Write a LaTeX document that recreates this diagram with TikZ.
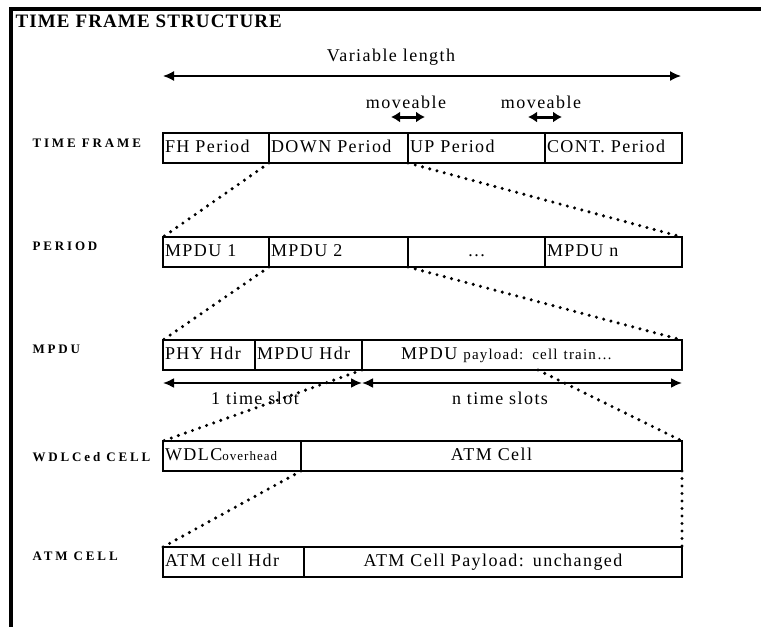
\documentclass[tikz,border=0pt]{standalone}
\usepackage{fontspec}
\setmainfont[LetterSpace=8]{Liberation Serif}
\newfontfamily\rowfont[LetterSpace=22]{Liberation Serif}
\newfontfamily\titlefont[LetterSpace=6]{Liberation Serif}
\usetikzlibrary{arrows.meta, calc, positioning}

\begin{document}
\begin{tikzpicture}[
    x=1pt, y=-1pt,
    font=\fontsize{18}{20}\selectfont,
    seg/.style={draw, line width=1.8pt, anchor=north west, minimum height=30pt, inner xsep=2pt, inner ysep=0pt, outer sep=0pt, text width=#1, align=left, text height=13pt, text depth=4pt},
    cseg/.style={seg=#1, align=center},
    rowlbl/.style={anchor=west, font=\rowfont\bfseries\fontsize{13}{15}\selectfont},
    span/.style={{Latex[length=11pt,width=10pt]}-{Latex[length=11pt,width=10pt]}, line width=2pt},
    movearrow/.style={{Latex[length=9pt,width=11pt]}-{Latex[length=9pt,width=11pt]}, line width=3pt},
    zoomline/.style={line width=3.4pt, dash pattern=on 0pt off 7.5pt, line cap=round},
]
\useasboundingbox (0,0) rectangle (761,627);

% frame and title
\draw[line width=3.2pt] (11,627) -- (11,9) -- (761,9);
\node[anchor=west, font=\titlefont\bfseries\fontsize{19}{21}\selectfont] (title) at (12,21) {TIME FRAME STRUCTURE};

% overall length
\coordinate (vl-w) at (163,76);
\coordinate (vl-e) at (681,76);
\draw[span, line width=1.4pt] (vl-w) -- (vl-e);
\node (vl) at (391,57) {Variable length};

% time frame
\node[rowlbl] (lbl-tf) at (29,143) {TIME FRAME};
\node[seg=102pt] (fh) at (163,133) {FH Period};
\node[seg=135pt] (down) [right=0pt of fh] {DOWN Period};
\node[seg=133pt] (up) [right=0pt of down] {UP Period};
\node[seg=133pt] (cont) [right=0pt of up] {CONT. Period};

\node (mv1) at (406,102) {moveable};
\node (mv2) at (541,102) {moveable};
\coordinate (mv1-w) at ($(up.north west)+(-17,-16)$);
\coordinate (mv1-e) at ($(up.north west)+(17,-16)$);
\coordinate (mv2-w) at ($(cont.north west)+(-17,-16)$);
\coordinate (mv2-e) at ($(cont.north west)+(17,-16)$);
\draw[movearrow] (mv1-w) -- (mv1-e);
\draw[movearrow] (mv2-w) -- (mv2-e);

% period
\node[rowlbl] (lbl-per) at (29,246) {PERIOD};
\node[seg=102pt] (mpdu1) at (163,237) {MPDU 1};
\node[seg=135pt] (mpdu2) [right=0pt of mpdu1] {MPDU 2};
\node[cseg=133pt] (more) [right=0pt of mpdu2] {\dots};
\node[seg=133pt] (mpdun) [right=0pt of more] {MPDU n};

% mpdu
\node[rowlbl] (lbl-mpdu) at (29,349) {MPDU};
\node[seg=88pt] (phy) at (163,340) {PHY Hdr};
\node[seg=103pt] (mpduhdr) [right=0pt of phy] {MPDU Hdr};
\node[seg=316pt] (payload) [right=0pt of mpduhdr] {\hspace*{37pt}MPDU {\fontsize{15}{18}\selectfont payload: cell train\dots}};

\coordinate (ts-w) at ($(phy.south west)+(0,13)$);
\coordinate (ts-m) at ($(payload.south west)+(0,13)$);
\coordinate (ts-e) at ($(payload.south east)+(0,13)$);
\draw[span] (ts-w) -- (ts-m);
\draw[span] (ts-m) -- (ts-e);
\node (ts1) at (255,398) {1 time slot};
\node (tsn) at (500,398) {n time slots};

% wdlc'ed cell
\node[rowlbl] (lbl-wdlc) at (29,457) {WDLCed CELL};
\node[seg=134pt] (wdlc) at (163,441) {WDLC{\fontsize{13}{15}\selectfont overhead}};
\node[cseg=377pt] (atmcell) [right=0pt of wdlc] {ATM Cell};

% atm cell
\node[rowlbl] (lbl-atm) at (29,556) {ATM CELL};
\node[seg=137pt] (atmhdr) at (163,547) {ATM cell Hdr};
\node[cseg=374pt] (atmpay) [right=0pt of atmhdr] {ATM Cell Payload: unchanged};

% zoom-in lines
\coordinate (cell-e) at ($(payload.south west)!0.55!(payload.south east)$);
\draw[zoomline] (down.south west) -- (mpdu1.north west);
\draw[zoomline] (down.south east) -- (mpdun.north east);
\draw[zoomline] (mpdu2.south west) -- (phy.north west);
\draw[zoomline] (mpdu2.south east) -- (payload.north east);
\draw[zoomline] (payload.south west) -- (wdlc.north west);
\draw[zoomline] (cell-e) -- (atmcell.north east);
\draw[zoomline] (wdlc.south east) -- (atmhdr.north west);
\draw[zoomline] (atmcell.south east) -- (atmpay.north east);

\end{tikzpicture}
\end{document}
